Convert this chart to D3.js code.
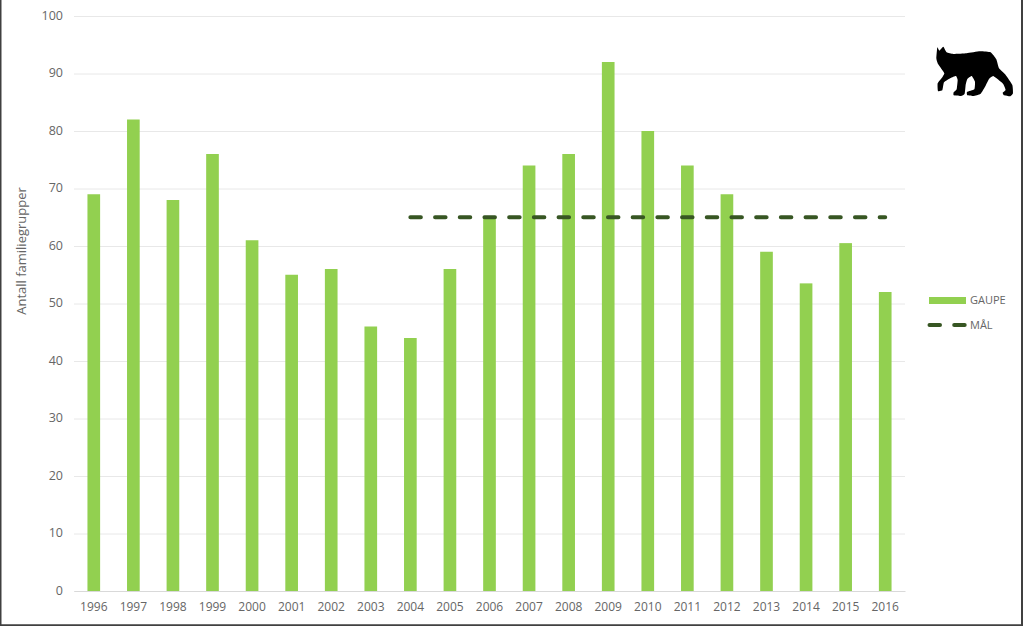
<!DOCTYPE html>
<html>
<head>
<meta charset="utf-8">
<script src="https://cdn.jsdelivr.net/npm/d3@7"></script>
<style>
html, body { margin: 0; padding: 0; background: #fff; }
svg { display: block; }
text { font-family: "Open Sans", sans-serif; fill: #666; }
</style>
</head>
<body>
<div id="chart"></div>
<script>
var years = ["1996","1997","1998","1999","2000","2001","2002","2003","2004","2005","2006","2007","2008","2009","2010","2011","2012","2013","2014","2015","2016"];
var gaupe = [69,82,68,76,61,55,56,46,44,56,65,74,76,92,80,74,69,59,53.5,60.5,52];
var maalYears = ["2004","2005","2006","2007","2008","2009","2010","2011","2012","2013","2014","2015","2016"];
var maal = [65,65,65,65,65,65,65,65,65,65,65,65,65];
var yTicks = [0,10,20,30,40,50,60,70,80,90,100];

// lynx outline, traced in icon units
var lynxOutline = [[22,22],[28,32],[40,20],[50,37],[70,42],[110,40],[150,34],[182,37],[199,58],[207,85],[227,105],[247,135],[249,160],[241,169],[222,166],[218,158],[227,150],[219,131],[190,108],[177,117],[167,137],[152,161],[130,168],[112,166],[111,156],[133,148],[135,125],[125,108],[112,117],[107,135],[104,161],[93,168],[71,166],[71,157],[80,148],[83,120],[78,108],[62,114],[42,127],[37,151],[24,153],[23,130],[38,110],[43,100],[33,85],[23,70],[19,55]];

var svgWidth = 1023;
var svgHeight = 626;
var margin = { top: 16, bottom: 35, left: 74, right: 118 };
var chartWidth = svgWidth - margin.left - margin.right;
var chartHeight = svgHeight - margin.top - margin.bottom;

var svg = d3.select("#chart")
    .append("svg")
    .attr("width", svgWidth)
    .attr("height", svgHeight);

// frame of the screenshot, no top edge in the original
svg.append("path")
    .attr("d", d3.line()([[0.5, 0], [0.5, 625.3], [1022, 625.3], [1022, 0]]))
    .attr("fill", "none")
    .attr("stroke", "#404040")
    .attr("stroke-width", 2);

var chartGroup = svg.append("g")
    .attr("transform", `translate(${margin.left}, ${margin.top})`);

var xScale = d3.scaleBand()
    .domain(years)
    .range([0, chartWidth])
    .paddingInner(0.68)
    .paddingOuter(0.34);

var yScale = d3.scaleLinear()
    .domain([0, 100])
    .range([chartHeight, 0]);

var leftAxis = d3.axisLeft(yScale)
    .tickValues(yTicks)
    .tickSize(-chartWidth)
    .tickPadding(11);

var yAxis = chartGroup.append("g").call(leftAxis);
yAxis.select(".domain").remove();
yAxis.selectAll("line").attr("stroke", "#e8e8e8").attr("stroke-width", 1);
yAxis.selectAll("text").attr("font-size", 12.5).attr("dy", "0.26em").style("fill", "#666");

var bottomAxis = d3.axisBottom(xScale).tickSize(0).tickPadding(11);
var xAxis = chartGroup.append("g")
    .attr("transform", `translate(0, ${chartHeight})`)
    .call(bottomAxis);
xAxis.select(".domain").attr("stroke", "#d9d9d9");
xAxis.selectAll("text").attr("font-size", 12).style("fill", "#666");

chartGroup.selectAll(".bar")
    .data(gaupe)
    .enter()
    .append("rect")
    .attr("class", "bar")
    .attr("x", (d, i) => xScale(years[i]))
    .attr("y", d => yScale(d))
    .attr("width", xScale.bandwidth())
    .attr("height", d => chartHeight - yScale(d))
    .attr("fill", "#92d050");

var goalLine = d3.line()
    .x((d, i) => xScale(maalYears[i]) + xScale.bandwidth() / 2)
    .y(d => yScale(d));

chartGroup.append("path")
    .attr("d", goalLine(maal))
    .attr("fill", "none")
    .attr("stroke", "#375623")
    .attr("stroke-width", 4)
    .attr("stroke-linecap", "round")
    .attr("stroke-dasharray", "10.5 14.2");

// axis title
svg.append("text")
    .attr("transform", "translate(26, 251) rotate(-90)")
    .attr("text-anchor", "middle")
    .attr("font-size", 13)
    .text("Antall familiegrupper");

// legend
var legend = svg.append("g").attr("transform", "translate(929, 300)");
legend.append("rect")
    .attr("x", 0).attr("y", -3)
    .attr("width", 37).attr("height", 7)
    .attr("fill", "#92d050");
legend.append("text")
    .attr("x", 41).attr("y", 4)
    .attr("font-size", 11)
    .text("GAUPE");
legend.append("line")
    .attr("x1", 0.5).attr("x2", 37)
    .attr("y1", 25).attr("y2", 25)
    .attr("stroke", "#375623")
    .attr("stroke-width", 4)
    .attr("stroke-linecap", "round")
    .attr("stroke-dasharray", "10.5 14.2");
legend.append("text")
    .attr("x", 41).attr("y", 29)
    .attr("font-size", 11)
    .text("MÅL");

// lynx icon
var lynxLine = d3.line().curve(d3.curveCardinalClosed.tension(0.6));
svg.append("path")
    .attr("transform", "translate(930, 40) scale(0.3333)")
    .attr("d", lynxLine(lynxOutline))
    .attr("fill", "#000");
</script>
</body>
</html>
